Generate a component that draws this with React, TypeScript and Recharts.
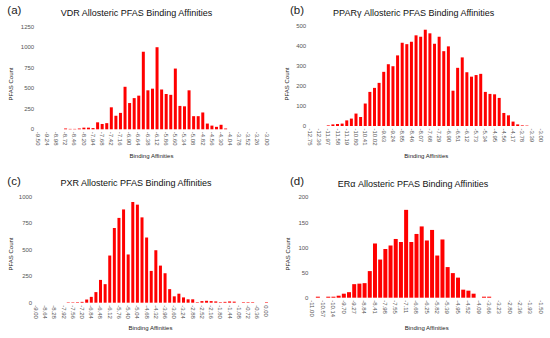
import React from 'react';
import { BarChart, Bar, XAxis, YAxis } from 'recharts';

// ---------- data ----------
const vdrTickLabels = ["-9.50","-9.24","-8.98","-8.72","-8.46","-8.20","-7.94","-7.68","-7.42","-7.16","-6.90","-6.64","-6.38","-6.12","-5.86","-5.60","-5.34","-5.08","-4.82","-4.56","-4.30","-4.04","-3.78","-3.52","-3.26","-3.00"];
const vdrCounts = [0,0,0,0,0,0,10,5,5,10,20,20,15,85,65,75,268,165,200,518,320,380,410,945,475,495,1000,485,430,420,740,285,280,475,160,160,205,70,45,30,55,10,0,0,0,0,0,0,0,0,0];
const vdrYTicks = [0,250,500,750,1000,1250];

const pparTickLabels = ["-12.75","-12.36","-11.97","-11.58","-11.19","-10.80","-10.41","-10.02","-9.63","-9.24","-8.85","-8.46","-8.07","-7.68","-7.29","-6.90","-6.51","-6.12","-5.73","-5.34","-4.95","-4.56","-4.17","-3.78","-3.39","-3.00"];
const pparCounts = [0,0,0,0,3,8,10,12,28,37,62,45,112,170,190,215,270,308,298,352,415,408,420,452,445,480,462,410,445,373,397,176,290,342,268,246,254,260,170,160,158,140,65,53,22,8,3,2,0,0,0];
const pparYTicks = [0,100,200,300,400,500];

const pxrTickLabels = ["-9.00","-8.64","-8.28","-7.92","-7.56","-7.20","-6.84","-6.48","-6.12","-5.76","-5.40","-5.04","-4.68","-4.32","-3.96","-3.60","-3.24","-2.88","-2.52","-2.16","-1.80","-1.44","-1.08","-0.72","-0.36","0.00"];
const pxrCounts = [0,0,0,0,0,0,0,4,4,5,8,30,55,100,215,175,445,705,800,880,455,950,925,805,615,300,495,350,278,128,60,85,50,32,32,5,15,18,15,12,5,8,12,10,0,5,5,5,0,0,5];
const pxrYTicks = [0,250,500,750,1000];

const eraTickLabels = ["-11.00","-10.57","-10.14","-9.70","-9.27","-8.84","-8.41","-7.98","-7.55","-7.11","-6.68","-6.25","-5.82","-5.39","-4.95","-4.52","-4.09","-3.66","-3.23","-2.80","-2.36","-1.93","-1.50"];
const eraCounts = [0,2,0,2,2,4,8,11,27,28,29,53,108,76,97,104,117,111,175,111,127,142,114,135,84,116,61,49,40,16,14,8,0,2,2,0,0,0,0,0,0,0,0,0,0];
const eraYTicks = [0,50,100,150,200];

// ---------- layout ----------
const FONT = '"Liberation Sans", Arial, Helvetica, sans-serif';
const PW = 275;
const PH = 169;

type PanelCfg = {
  letter: string;
  title: string;
  counts: number[];
  tickLabels: string[];
  yTicks: number[];
  x0: number; y0: number;
  plotLeft: number; plotWidth: number; plotTop: number; plotBottom: number;
  gap: string;
  letterX: number; letterY: number;
  titleX: number; titleY: number;
  yTitleX: number; yTitleY: number;
  xTitleX: number; xTitleY: number;
};

const panels: PanelCfg[] = [
  { letter: '(a)', title: 'VDR Allosteric PFAS Binding Affinities', counts: vdrCounts, tickLabels: vdrTickLabels, yTicks: vdrYTicks,
    x0: 0, y0: 0, plotLeft: 35.7, plotWidth: 233.2, plotTop: 26.7, plotBottom: 129.3, gap: '21%',
    letterX: 7.3, letterY: 14, titleX: 136.5, titleY: 15.5, yTitleX: 10.8, yTitleY: 84, xTitleX: 151.5, xTitleY: 158 },
  { letter: '(b)', title: 'PPARγ Allosteric PFAS Binding Affinities', counts: pparCounts, tickLabels: pparTickLabels, yTicks: pparYTicks,
    x0: 275, y0: 0, plotLeft: 32.7, plotWidth: 235.6, plotTop: 25.7, plotBottom: 126, gap: '13%',
    letterX: 290, letterY: 14, titleX: 413.7, titleY: 15.5, yTitleX: 286.7, yTitleY: 84, xTitleX: 426.3, xTitleY: 158 },
  { letter: '(c)', title: 'PXR Allosteric PFAS Binding Affinities', counts: pxrCounts, tickLabels: pxrTickLabels, yTicks: pxrYTicks,
    x0: 0, y0: 169, plotLeft: 33.7, plotWidth: 235.1, plotTop: 27.7, plotBottom: 133.7, gap: '17%',
    letterX: 7.3, letterY: 184.5, titleX: 136, titleY: 186, yTitleX: 10.8, yTitleY: 254, xTitleX: 150.5, xTitleY: 330 },
  { letter: '(d)', title: 'ERα Allosteric PFAS Binding Affinities', counts: eraCounts, tickLabels: eraTickLabels, yTicks: eraYTicks,
    x0: 275, y0: 169, plotLeft: 34.9, plotWidth: 233.6, plotTop: 28.3, plotBottom: 128.7, gap: '15%',
    letterX: 290, letterY: 184.5, titleX: 413, titleY: 186.5, yTitleX: 287.5, yTitleY: 254, xTitleX: 426.7, xTitleY: 330 },
];

const XTick = (props: any) => {
  const { x, y, payload, labels } = props;
  const idx = payload.value as number;
  if (idx % 2 !== 0) return null;
  const label = labels[idx / 2];
  return (
    <text x={x} y={y} transform={`rotate(90, ${x}, ${y})`} dy="0.35em" textAnchor="start"
      fontSize={6} fill="#555" fontFamily={FONT}>{label}</text>
  );
};

const Panel = ({ p }: { p: PanelCfg }) => {
  const data = p.counts.map((c, i) => ({ bin: i, count: c }));
  const rightMargin = PW - p.plotLeft - p.plotWidth;
  const xAxisHeight = PH - p.plotBottom;
  const yMax = p.yTicks[p.yTicks.length - 1];
  return (
    <div style={{ position: 'absolute', left: p.x0, top: p.y0, width: PW, height: PH }}>
      <BarChart width={PW} height={PH} data={data}
        margin={{ top: p.plotTop, right: rightMargin, bottom: 0, left: 0 }}
        barCategoryGap={p.gap}>
        <XAxis dataKey="bin" type="category" interval={1} axisLine={false} tickLine={false}
          tickSize={0} tickMargin={2.5} height={xAxisHeight}
          tick={(tp: any) => <XTick {...tp} labels={p.tickLabels} />} />
        <YAxis type="number" domain={[0, yMax]} ticks={p.yTicks} interval={0} axisLine={false} tickLine={false}
          tickSize={0} tickMargin={1.5} width={p.plotLeft}
          tick={{ fontSize: 6, fill: '#555', fontFamily: FONT }} />
        <Bar dataKey="count" fill="#ff0000" isAnimationActive={false} />
      </BarChart>
    </div>
  );
};

export default function App() {
  return (
    <div style={{ position: 'absolute', left: 0, top: 0, width: 550, height: 338, background: '#fff', overflow: 'hidden' }}>
      {panels.map((p) => <Panel key={p.letter} p={p} />)}
      <svg width={550} height={338} style={{ position: 'absolute', left: 0, top: 0, pointerEvents: 'none' }}
        fontFamily={FONT}>
        {panels.map((p) => (
          <g key={p.letter}>
            <text x={p.letterX} y={p.letterY} fontSize={11.5} fill="#222">{p.letter}</text>
            <text x={p.titleX} y={p.titleY} fontSize={9} fill="#111" textAnchor="middle">{p.title}</text>
            <text x={p.yTitleX} y={p.yTitleY} fontSize={6} fill="#222" textAnchor="middle" dy="0.35em"
              transform={`rotate(-90, ${p.yTitleX}, ${p.yTitleY})`}>PFAS Count</text>
            <text x={p.xTitleX} y={p.xTitleY} fontSize={6} fill="#222" textAnchor="middle">Binding Affinities</text>
          </g>
        ))}
      </svg>
    </div>
  );
}
